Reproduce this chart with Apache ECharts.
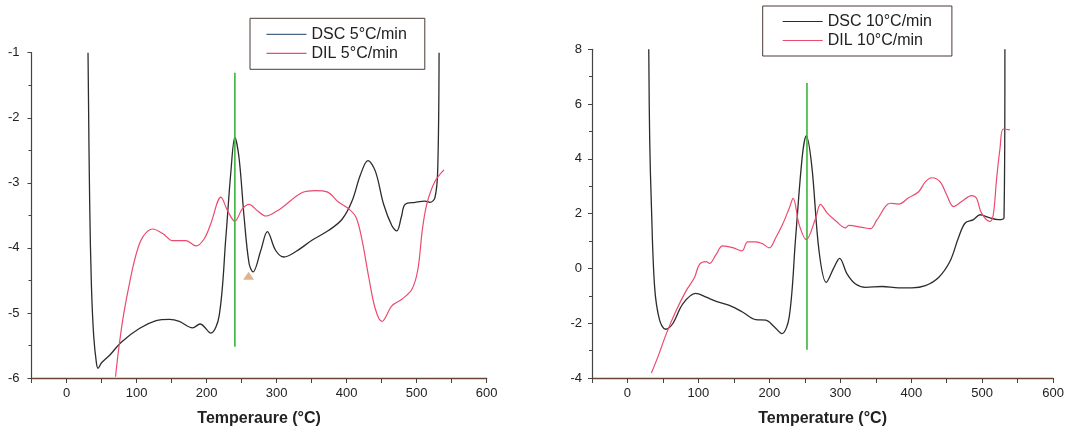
<!DOCTYPE html>
<html>
<head>
<meta charset="utf-8">
<script src="https://cdn.jsdelivr.net/npm/echarts@6/dist/echarts.min.js"></script>
<style>
  html, body { margin: 0; padding: 0; background: #fff; }
  #chart { width: 1067px; height: 432px; }
</style>
</head>
<body>
<div id="chart"></div>
<script>
// ---- 5 °C/min run ----
const tDsc5 = [30.7, 33.1, 35.6, 38.8, 42.7, 45, 49.8, 61.6, 78.2, 104, 128, 147, 161, 180, 190.6, 206, 218, 227.6, 234.7, 240.4, 246.5, 253.6, 260.7, 266.4, 277.4, 286.8, 298.7, 310.5, 327, 351, 374.5, 393.5, 407.7, 419.6, 430.4, 441, 452.8, 464.6, 471.7, 478, 483.6, 498, 512, 519, 526, 530, 532];
const vDsc5 = [-1.0, -3.33, -4.59, -5.35, -5.77, -5.85, -5.77, -5.65, -5.45, -5.24, -5.12, -5.10, -5.13, -5.23, -5.17, -5.31, -5.04, -3.83, -2.83, -2.30, -2.63, -3.53, -4.24, -4.37, -4.04, -3.75, -4.04, -4.14, -4.06, -3.88, -3.73, -3.56, -3.28, -2.88, -2.66, -2.82, -3.33, -3.66, -3.74, -3.53, -3.33, -3.30, -3.28, -3.30, -3.23, -2.82, -1.0];

const tDil5 = [70, 73.4, 80.5, 90, 99.6, 109, 123, 137.4, 151.6, 170.7, 185, 196.7, 206, 220.5, 230, 240.4, 251, 260.7, 272.6, 284.5, 301, 308, 336.6, 355.6, 372, 388.8, 403, 413.4, 422, 431.4, 441, 450.4, 464.6, 478.8, 493, 501.6, 508, 514.4, 526, 539];
const vDil5 = [-5.98, -5.65, -5.09, -4.54, -4.09, -3.83, -3.71, -3.78, -3.89, -3.89, -3.97, -3.86, -3.63, -3.22, -3.43, -3.59, -3.40, -3.33, -3.43, -3.51, -3.43, -3.38, -3.15, -3.12, -3.14, -3.30, -3.40, -3.53, -3.88, -4.44, -4.94, -5.13, -4.89, -4.79, -4.64, -4.34, -3.73, -3.33, -2.98, -2.80];

const peakLine5 = [[240.4, -1.31], [240.4, -5.52]];
const onsetMark5 = [[260, -4.43]];

// ---- 10 °C/min run ----
const tDsc10 = [30, 31.3, 33.7, 38.3, 45.3, 53.8, 64, 78, 96, 111, 125, 143.6, 162, 181, 195, 206.8, 217.6, 228, 237, 246.5, 252, 259.7, 270, 280.2, 291, 299, 309.7, 321.5, 335.5, 358.9, 382.3, 401, 419.8, 438.5, 454.8, 466.5, 476, 487.6, 497, 508.6, 522.7, 530.7, 532];
const vDsc10 = [8, 4.73, 2.32, -0.69, -1.89, -2.22, -2.01, -1.29, -0.91, -1.05, -1.20, -1.35, -1.59, -1.87, -1.89, -2.13, -2.38, -1.77, 1.12, 4.12, 4.84, 3.76, 0.64, -0.51, 0.03, 0.37, -0.21, -0.57, -0.69, -0.66, -0.71, -0.71, -0.63, -0.33, 0.27, 1.12, 1.66, 1.78, 1.96, 1.86, 1.78, 1.84, 8];

const tDil10 = [33.7, 43, 54.8, 68.8, 82.8, 94.5, 101.5, 111, 115.5, 125, 134, 148, 161.4, 169.4, 181, 190.4, 199.8, 209, 218.5, 228, 233.5, 242, 252, 265.3, 272, 281.6, 293.4, 307.5, 312, 330.8, 342.5, 351.8, 370.6, 382.3, 396.3, 410.4, 419.8, 429, 440.8, 450, 459.5, 471, 485, 492, 499, 511, 515.6, 520.3, 525, 529.7, 539];
const vDil10 = [-3.82, -3.22, -2.38, -1.53, -0.81, -0.33, 0.15, 0.25, 0.18, 0.51, 0.82, 0.76, 0.64, 0.97, 0.97, 0.90, 0.75, 1.12, 1.60, 2.20, 2.56, 1.60, 1.05, 1.84, 2.34, 2.02, 1.74, 1.48, 1.57, 1.50, 1.45, 1.78, 2.38, 2.35, 2.58, 2.80, 3.16, 3.31, 3.16, 2.68, 2.26, 2.44, 2.66, 2.56, 2.02, 1.72, 1.96, 3.28, 4.36, 5.09, 5.06];

const peakLine10 = [[253, 6.77], [253, -2.97]];

// axis ranges and labels
const xMin = -50, xMax = 600, xTickStep = 50, xLabelStep = 100;
const yRange5 = [-6, -1], yRange10 = [-4, 8];
const xTitle5 = 'Temperaure (°C)';
const xTitle10 = 'Temperature (°C)';
const names5 = ['DSC 5°C/min', 'DIL 5°C/min'];
const names10 = ['DSC 10°C/min', 'DIL 10°C/min'];

const zip = (a, b) => a.map((v, i) => [v, b[i]]);

const DSC_COLOR = '#2e2b2b';
const DIL_COLOR = '#ec4a6e';
const GREEN = '#3cb43c';
const TEXT = '#222';
const FONT = 'Liberation Sans, Arial, sans-serif';

function xAxis(gridIndex, title) {
  return {
    type: 'value', gridIndex, min: xMin, max: xMax, interval: xTickStep,
    splitLine: { show: false },
    axisLine: { show: true, onZero: false, lineStyle: { color: '#6a4434', width: 1.3 } },
    axisTick: { show: true, inside: false, length: 5, lineStyle: { color: '#444' } },
    axisLabel: {
      color: TEXT, fontSize: 13, margin: 9, fontFamily: FONT,
      formatter: v => (v >= 0 && v % xLabelStep === 0) ? String(v) : ''
    },
    name: title, nameLocation: 'middle', nameGap: 33,
    nameTextStyle: { color: TEXT, fontSize: 16, fontWeight: 'bold', fontFamily: FONT }
  };
}
function yAxis(gridIndex, range, interval, margin) {
  return {
    type: 'value', gridIndex, min: range[0], max: range[1], interval,
    splitLine: { show: false },
    axisLine: { show: true, onZero: false, lineStyle: { color: '#444', width: 1.2 } },
    axisTick: { show: true, inside: false, length: 4, lineStyle: { color: '#444' } },
    minorTick: { show: true, splitNumber: 2, length: 3, lineStyle: { color: '#444' } },
    axisLabel: { color: TEXT, fontSize: 13, margin, fontFamily: FONT }
  };
}
function curve(name, data, color, idx, width) {
  return {
    name, type: 'line', data, xAxisIndex: idx, yAxisIndex: idx,
    symbol: 'none', smooth: 0.35, clip: true,
    lineStyle: { color, width: width || 1.2 }, itemStyle: { color },
    z: 3
  };
}
function vline(data, idx) {
  return {
    type: 'line', data, xAxisIndex: idx, yAxisIndex: idx, symbol: 'none',
    lineStyle: { color: GREEN, width: 1.6 }, silent: true, z: 4
  };
}
function legendBox(names, left, top, padding, dscIcon) {
  return {
    orient: 'vertical', left, top, padding,
    icon: 'rect', itemWidth: 40, itemHeight: 1.2, itemGap: 3,
    borderColor: '#4a3a36', borderWidth: 1,
    textStyle: { color: TEXT, fontSize: 16, fontFamily: FONT, lineHeight: 16 },
    data: [
      { name: names[0], itemStyle: { color: dscIcon } },
      { name: names[1], itemStyle: { color: DIL_COLOR } }
    ]
  };
}

const chart = echarts.init(document.getElementById('chart'), null, { renderer: 'canvas' });
chart.setOption({
  backgroundColor: '#ffffff',
  animation: false,
  grid: [
    { left: 31.5, top: 52.7, width: 455.2, height: 330.6 },
    { left: 592, top: 49.3, width: 463, height: 332.4 }
  ],
  xAxis: [xAxis(0, xTitle5), xAxis(1, xTitle10)],
  yAxis: [yAxis(0, yRange5, 1, 12), yAxis(1, yRange10, 2, 10)],
  legend: [
    legendBox(names5, 250, 18.3, [8, 18, 8, 16.5], '#4b6486'),
    legendBox(names10, 762.7, 6, [7.5, 20, 7.5, 20], DSC_COLOR)
  ],
  series: [
    curve(names5[0], zip(tDsc5, vDsc5), DSC_COLOR, 0, 1.3),
    curve(names5[1], zip(tDil5, vDil5), DIL_COLOR, 0, 1.2),
    vline(peakLine5, 0),
    {
      type: 'scatter', data: onsetMark5, xAxisIndex: 0, yAxisIndex: 0,
      symbol: 'triangle', symbolSize: [11, 8], itemStyle: { color: '#d8a070' }, silent: true, z: 5
    },
    curve(names10[0], zip(tDsc10, vDsc10), DSC_COLOR, 1, 1.3),
    curve(names10[1], zip(tDil10, vDil10), DIL_COLOR, 1, 1.2),
    vline(peakLine10, 1)
  ]
});
</script>
</body>
</html>
